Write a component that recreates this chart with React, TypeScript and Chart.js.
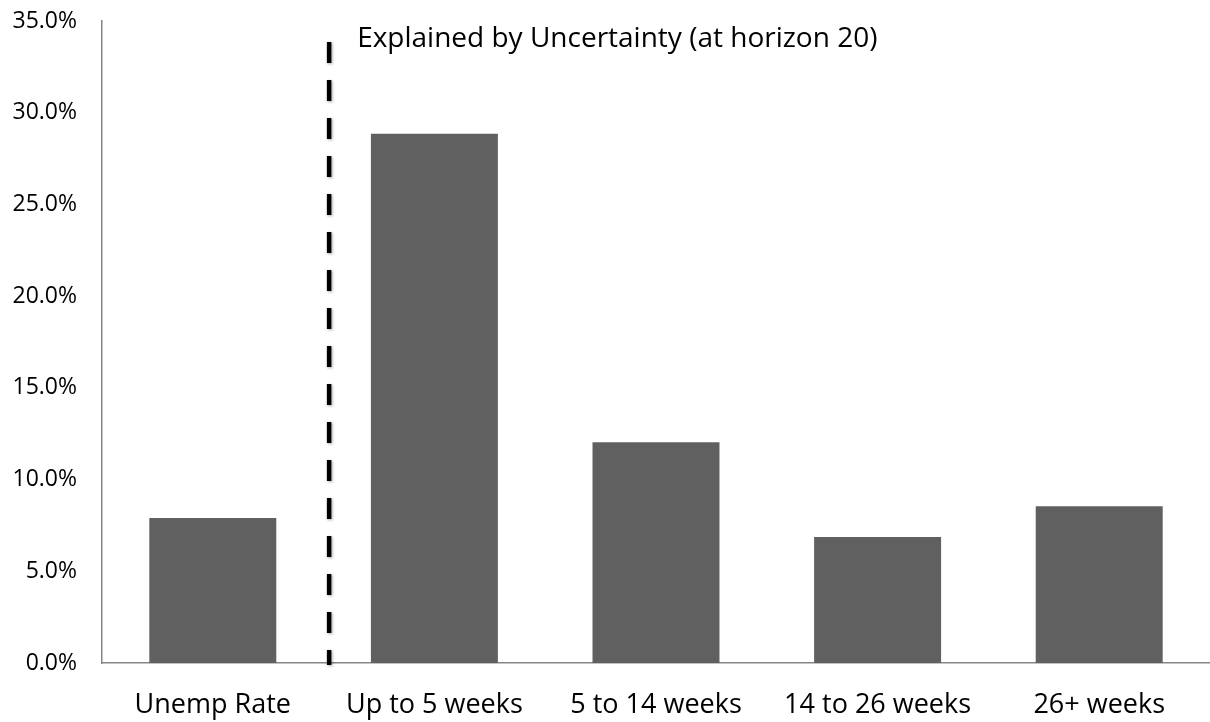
import React, { useEffect, useRef } from "react";
import { Chart, registerables } from "chart.js";

Chart.register(...registerables);

const categories = ["Unemp Rate", "Up to 5 weeks", "5 to 14 weeks", "14 to 26 weeks", "26+ weeks"];
const values = [7.9, 28.86, 12.04, 6.87, 8.55];
const yTickValues = [0, 5, 10, 15, 20, 25, 30, 35];
const annotationText = "Explained by Uncertainty (at horizon 20)";
const FONT = "'Open Sans', sans-serif";

const dividerPlugin = {
  id: "divider",
  afterDatasetsDraw(chart: any) {
    const { ctx, scales } = chart;
    const x = scales.x.getPixelForValue(0.525);
    const yTop = 42;
    const yBottom = scales.y.getPixelForValue(0) + 2;
    ctx.save();
    ctx.strokeStyle = "#000000";
    ctx.lineWidth = 4.5;
    ctx.setLineDash([21, 17]);
    ctx.shadowColor = "rgba(0,0,0,0.35)";
    ctx.shadowBlur = 3;
    ctx.shadowOffsetX = 1;
    ctx.shadowOffsetY = 1;
    ctx.beginPath();
    ctx.moveTo(x, yTop);
    ctx.lineTo(x, yBottom);
    ctx.stroke();
    ctx.restore();

    ctx.save();
    ctx.fillStyle = "#000000";
    ctx.font = `28px ${FONT}`;
    ctx.textAlign = "left";
    ctx.textBaseline = "alphabetic";
    ctx.fillText(annotationText, x + 28, 47);
    ctx.restore();
  },
};

export default function App() {
  const canvasRef = useRef<HTMLCanvasElement | null>(null);

  useEffect(() => {
    document.body.style.margin = "0";
    const canvas = canvasRef.current;
    if (!canvas) return;
    const chart = new Chart(canvas, {
      type: "bar",
      data: {
        labels: categories,
        datasets: [
          {
            data: values,
            backgroundColor: "#606060",
            borderWidth: 0,
            categoryPercentage: 0.573,
            barPercentage: 1,
          },
        ],
      },
      options: {
        responsive: false,
        animation: false,
        maintainAspectRatio: false,
        layout: { padding: { top: 21, left: 0, right: 0, bottom: 0 } },
        plugins: {
          legend: { display: false },
          tooltip: { enabled: false },
        },
        scales: {
          x: {
            grid: { display: false, drawTicks: false },
            border: { display: true, color: "#868686", width: 1.5 },
            ticks: {
              color: "#000000",
              font: { family: FONT, size: 27 },
              padding: 26,
              maxRotation: 0,
              autoSkip: false,
            },
            afterFit(scale: any) {
              scale.height = 59;
              scale.paddingLeft = 0;
              scale.paddingRight = 0;
            },
          },
          y: {
            min: 0,
            max: 35,
            grid: { display: false, drawTicks: false },
            border: { display: true, color: "#868686", width: 1.5 },
            afterBuildTicks(scale: any) {
              scale.ticks = yTickValues.map((v) => ({ value: v }));
            },
            ticks: {
              color: "#000000",
              font: { family: FONT, size: 23 },
              padding: 25,
              callback: (v: any) => Number(v).toFixed(1) + "%",
            },
            afterFit(scale: any) {
              scale.width = 102;
              scale.paddingTop = 0;
              scale.paddingBottom = 0;
            },
          },
        },
      },
      plugins: [dividerPlugin],
    });
    return () => chart.destroy();
  }, []);

  return (
    <div style={{ position: "absolute", left: 0, top: 0, width: 1210, height: 722, background: "#ffffff" }}>
      <canvas ref={canvasRef} width={1210} height={722} style={{ width: 1210, height: 722 }} />
    </div>
  );
}
